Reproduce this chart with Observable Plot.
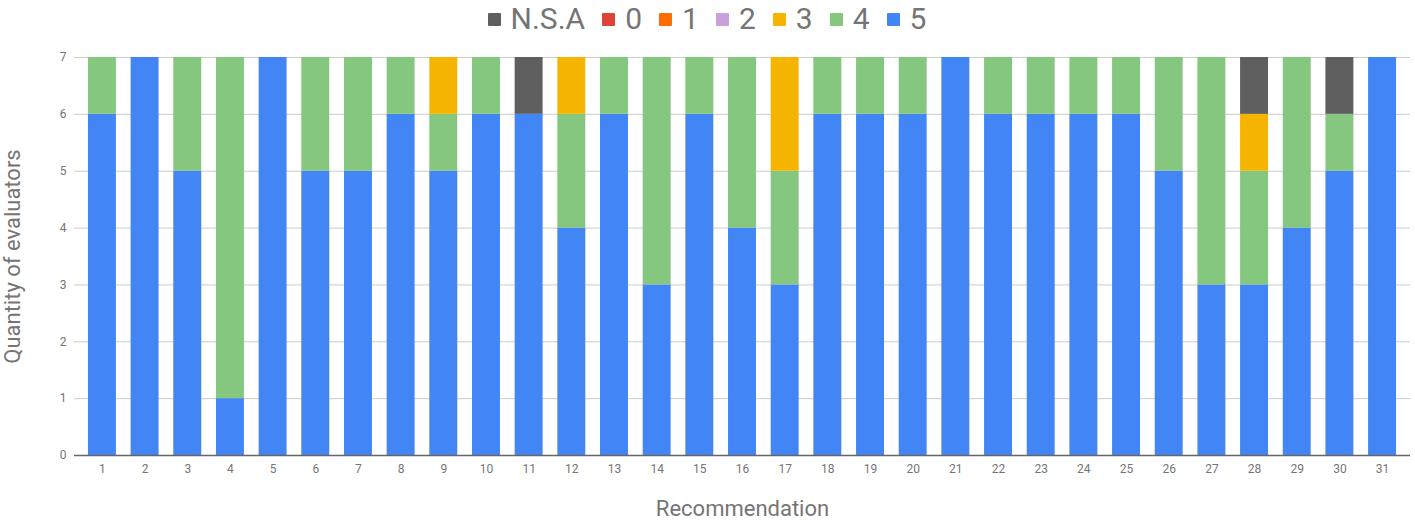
<!DOCTYPE html>
<html>
<head>
<meta charset="utf-8">
<script src="https://cdn.jsdelivr.net/npm/d3@7"></script>
<script src="https://cdn.jsdelivr.net/npm/@observablehq/plot@0.6"></script>
<style>
  html, body { margin: 0; padding: 0; background: #fff; }
  body { width: 1415px; height: 521px; overflow: hidden; font-family: Roboto, sans-serif; }
  #legend { height: 38px; display: flex; justify-content: center; align-items: center; color: #757575; font-size: 30px; line-height: 38px; padding-left: 16px; box-sizing: border-box; }
  #legend .item { display: flex; align-items: center; margin-right: 17px; }
  #legend .sw { width: 13px; height: 13px; margin-right: 10px; border-radius: 1px; }
  #chart svg { display: block; }
</style>
</head>
<body>
<div id="legend"></div>
<div id="chart"></div>
<script>
const recommendations = ["1","2","3","4","5","6","7","8","9","10","11","12","13","14","15","16","17","18","19","20","21","22","23","24","25","26","27","28","29","30","31"];
const seriesNames = ["N.S.A","0","1","2","3","4","5"];
const seriesColors = ["#5f5f5f","#db4437","#ff6d01","#c9a0dc","#f4b400","#85c77e","#4285f4"];
const score5 = [6,7,5,1,7,5,5,6,5,6,6,4,6,3,6,4,3,6,6,6,7,6,6,6,6,5,3,3,4,5,7];
const score4 = [1,0,2,6,0,2,2,1,1,1,0,2,1,4,1,3,2,1,1,1,0,1,1,1,1,2,4,2,3,1,0];
const score3 = [0,0,0,0,0,0,0,0,1,0,0,1,0,0,0,0,2,0,0,0,0,0,0,0,0,0,0,1,0,0,0];
const score2 = [0,0,0,0,0,0,0,0,0,0,0,0,0,0,0,0,0,0,0,0,0,0,0,0,0,0,0,0,0,0,0];
const score1 = [0,0,0,0,0,0,0,0,0,0,0,0,0,0,0,0,0,0,0,0,0,0,0,0,0,0,0,0,0,0,0];
const score0 = [0,0,0,0,0,0,0,0,0,0,0,0,0,0,0,0,0,0,0,0,0,0,0,0,0,0,0,0,0,0,0];
const scoreNSA = [0,0,0,0,0,0,0,0,0,0,1,0,0,0,0,0,0,0,0,0,0,0,0,0,0,0,0,1,0,1,0];
const yTicks = [0,1,2,3,4,5,6,7];

const bySeries = {"5": score5, "4": score4, "3": score3, "2": score2, "1": score1, "0": score0, "N.S.A": scoreNSA};
const stackOrder = ["5","4","3","2","1","0","N.S.A"];
const rows = [];
recommendations.forEach((r, i) => {
  stackOrder.forEach(s => {
    const v = bySeries[s][i];
    if (v > 0) rows.push({rec: r, series: s, value: v});
  });
});

const legend = document.getElementById("legend");
seriesNames.forEach((n, i) => {
  const it = document.createElement("div");
  it.className = "item";
  it.innerHTML = `<span class="sw" style="background:${seriesColors[i]}"></span><span>${n}</span>`;
  legend.appendChild(it);
});

const chart = Plot.plot({
  width: 1415,
  height: 483,
  marginLeft: 74,
  marginRight: 5,
  marginTop: 19,
  marginBottom: 66,
  style: {fontFamily: "Roboto, sans-serif", color: "#757575", background: "#fff"},
  x: {domain: recommendations, paddingInner: 0.345, paddingOuter: 0.327, round: false, label: "Recommendation", labelAnchor: "center", labelArrow: "none"},
  y: {domain: [0, 7], ticks: yTicks, label: "Quantity of evaluators", labelAnchor: "center", labelArrow: "none"},
  color: {domain: seriesNames, range: seriesColors},
  marks: [
    Plot.gridY(yTicks, {stroke: "#cccccc", strokeOpacity: 1}),
    Plot.barY(rows, {x: "rec", y: "value", fill: "series", order: stackOrder}),
    Plot.ruleY([0], {stroke: "#666", strokeWidth: 1.5}),
    Plot.axisX({tickSize: 0, tickPadding: 9, fontSize: 12, label: "Recommendation", labelOffset: 60, labelAnchor: "center", labelArrow: "none"}),
    Plot.axisY(yTicks, {tickSize: 0, tickPadding: 8, fontSize: 12, tickFormat: d3.format("d"), label: "Quantity of evaluators", labelOffset: 70, labelAnchor: "center", labelArrow: "none"})
  ]
});
document.getElementById("chart").appendChild(chart);
chart.querySelectorAll("g[aria-label='x-axis label'] text, g[aria-label='y-axis label'] text").forEach(t => {
  t.setAttribute("font-size", "22");
  t.style.fontSize = "22px";
  t.setAttribute("fill", "#757575");
});
</script>
</body>
</html>
